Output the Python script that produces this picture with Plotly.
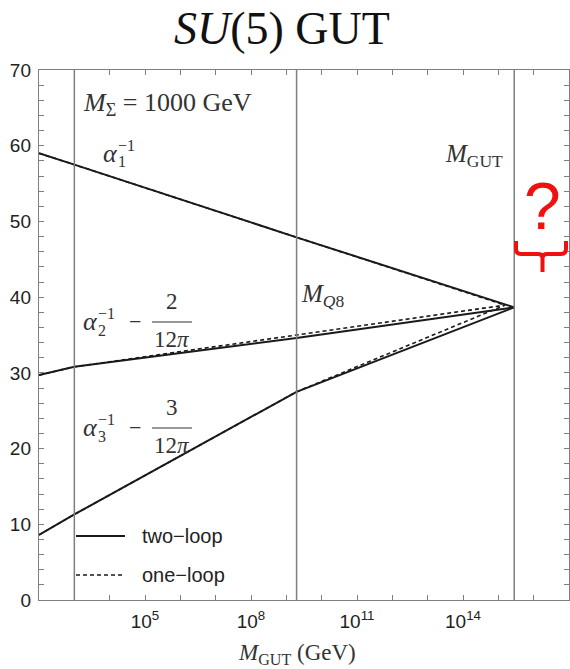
import numpy as np
import plotly.graph_objects as go

# Renormalisation scales (log10 of GeV) at which the running changes slope
two_loop_log_mu = [2.0, 3.0, 9.29, 15.45]
one_loop_log_mu = [2.0, 3.0, 9.29, 15.19]

# Inverse gauge couplings (with the SU(5) offsets shown in the labels)
alpha1_two_loop = [59.0, 57.5, 47.9, 38.65]
alpha2_two_loop = [29.7, 30.8, 34.6, 38.65]
alpha3_two_loop = [8.6, 11.3, 27.5, 38.65]
alpha1_one_loop = [59.0, 57.5, 47.9, 38.95]
alpha2_one_loop = [29.7, 30.8, 35.0, 38.95]
alpha3_one_loop = [8.6, 11.3, 27.5, 38.95]

# Threshold scales drawn as vertical lines: M_Sigma, M_Q8, M_GUT
threshold_log_mu = [3.0, 9.29, 15.45]

x_tick_exponents = list(range(2, 18))
x_labelled_exponents = [5, 8, 11, 14]
y_tick_values = list(range(0, 71, 2))
X_RANGE_LOG = [2, 17]

W_PX, H_PX = 570, 669
L, R, T, B = 39, 569, 70, 600
PW, PH = R - L, B - T


def px(xp):
    return (xp - L) / PW


def py(yp):
    return (B - yp) / PH


SERIF = "Liberation Serif, Times New Roman, serif"
SANS = "Liberation Sans, Arial, sans-serif"
INK = "#333333"
FRAME = "#7f7f7f"
CURVE = "#1a1a1a"

fig = go.Figure()

for vals in (alpha1_two_loop, alpha2_two_loop, alpha3_two_loop):
    fig.add_trace(go.Scatter(
        x=[10 ** v for v in two_loop_log_mu], y=vals, mode="lines",
        line=dict(color=CURVE, width=2), showlegend=False, hoverinfo="skip"))
for vals in (alpha1_one_loop, alpha2_one_loop, alpha3_one_loop):
    fig.add_trace(go.Scatter(
        x=[10 ** v for v in one_loop_log_mu], y=vals, mode="lines",
        line=dict(color=CURVE, width=1.6, dash="4px,3px"), showlegend=False,
        hoverinfo="skip"))

shapes = []
span = X_RANGE_LOG[1] - X_RANGE_LOG[0]
for lm in threshold_log_mu:
    xf = (lm - X_RANGE_LOG[0]) / span
    shapes.append(dict(type="line", xref="paper", yref="paper", x0=xf, x1=xf,
                       y0=0, y1=1, line=dict(color=FRAME, width=1.5)))

annotations = []


def text(xp, yp, s, size, color=INK, font=SERIF, xanchor="left",
         yanchor="middle"):
    annotations.append(dict(x=px(xp), y=py(yp), xref="paper", yref="paper",
                            text=s, showarrow=False, xanchor=xanchor,
                            yanchor=yanchor, font=dict(size=size, color=color,
                                                       family=font)))


def hline(x0, x1, yp, color=INK, width=1.2, dash=None):
    shapes.append(dict(type="line", xref="paper", yref="paper", x0=px(x0),
                       x1=px(x1), y0=py(yp), y1=py(yp),
                       line=dict(color=color, width=width, dash=dash)))


# Title
text(282, 28, "<i>SU</i>(5) GUT", 46, color="#111111", xanchor="center")

# Threshold labels
text(81, 104, "<i>M</i><sub>Σ</sub> = 1000 GeV", 26)
text(299, 295, "<i>M</i><sub><i>Q</i>8</sub>", 25)
text(443, 155, "<i>M</i><sub>GUT</sub>", 25)

# Coupling labels with stacked sub/superscripts
text(101, 153, "<i>α</i>", 26)
text(116, 161, "1", 16)
text(116, 145, "−1", 16)

for (ya, sub, num) in ((321, "2", "2"), (427, "3", "3")):
    text(81, ya, "<i>α</i>", 26)
    text(96, ya + 9, sub, 16)
    text(96, ya - 8, "−1", 16)
    text(135, ya, "−", 22, xanchor="center")
    text(172, ya - 20, num, 23, xanchor="center")
    hline(152, 192, ya + 1)
    text(172, ya + 18, "12<i>π</i>", 23, xanchor="center")

# Legend drawn inside the frame
hline(76, 125, 536, color=CURVE, width=2)
hline(76, 125, 575, color=CURVE, width=1.6, dash="4px,3px")
text(140, 536, "two−loop", 20, color="#222222", font=SANS)
text(140, 575, "one−loop", 20, color="#222222", font=SANS)

# Red question mark and brace beside M_GUT
text(542, 206, "?", 66, color="#f01010", font=SANS, xanchor="center")
path = (f"M {px(516)},{py(241)} L {px(516)},{py(249)} "
        f"Q {px(516)},{py(254)} {px(521)},{py(254)} L {px(538)},{py(254)} "
        f"Q {px(542.5)},{py(254)} {px(542.5)},{py(258)} L {px(542.5)},{py(272)} "
        f"M {px(542.5)},{py(258)} Q {px(542.5)},{py(254)} {px(547)},{py(254)} "
        f"L {px(561)},{py(254)} Q {px(566)},{py(254)} {px(566)},{py(249)} "
        f"L {px(566)},{py(241)}")
shapes.append(dict(type="path", xref="paper", yref="paper", path=path,
                   line=dict(color="#f01010", width=4)))

# Axis title
text(297, 654, "<i>M</i><sub>GUT</sub> (GeV)", 23, xanchor="center")

axis_common = dict(
    showgrid=False, zeroline=False, showline=True, linecolor=FRAME,
    linewidth=1.4, mirror="ticks", ticks="inside", ticklen=5,
    tickcolor=FRAME, tickwidth=1.2,
    tickfont=dict(family=SANS, size=19, color="#222222"))

fig.update_layout(
    width=W_PX, height=H_PX,
    margin=dict(l=L, r=W_PX - R, t=T, b=H_PX - B),
    paper_bgcolor="white", plot_bgcolor="white",
    xaxis=dict(type="log", range=X_RANGE_LOG,
               tickvals=[10 ** k for k in x_tick_exponents],
               ticktext=[f"10<sup>{k}</sup>" if k in x_labelled_exponents
                         else "" for k in x_tick_exponents],
               ticklabelstandoff=4, **axis_common),
    yaxis=dict(range=[0, 70], tickvals=y_tick_values,
               ticktext=[str(v) if v % 10 == 0 else "" for v in y_tick_values],
               ticklabelstandoff=3, **axis_common),
    shapes=shapes, annotations=annotations,
)

fig.write_html("out.html")
